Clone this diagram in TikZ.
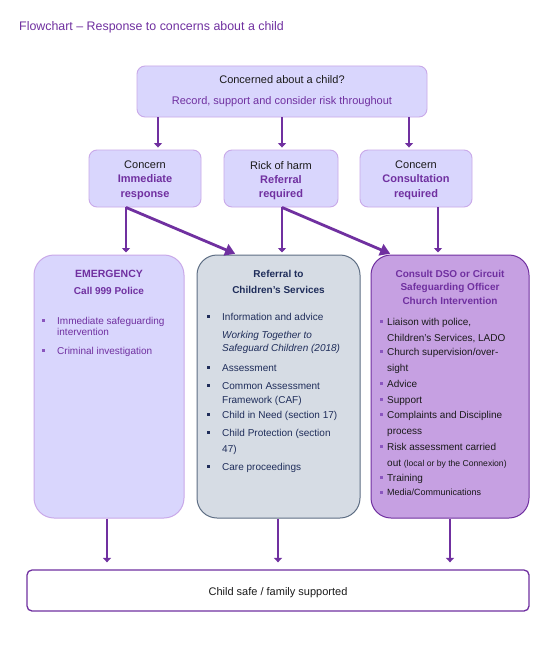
\documentclass[tikz,border=0pt]{standalone}
\usepackage{fontspec}
\setmainfont{Liberation Sans}
\usetikzlibrary{arrows.meta}
\definecolor{purp}{HTML}{7030A0}
\definecolor{lav}{HTML}{D9D6FD}
\definecolor{lavb}{HTML}{C9A9E9}
\definecolor{grayf}{HTML}{D6DCE4}
\definecolor{grayb}{HTML}{5E6E84}
\definecolor{navy}{HTML}{1F2D5A}
\definecolor{violf}{HTML}{C6A0E2}
\definecolor{bulp}{HTML}{8A55BE}
\definecolor{ink}{HTML}{1A1A1A}
\begin{document}
\begin{tikzpicture}[x=1pt,y=-1pt,
  lbox/.style={draw=lavb, fill=lav, line width=0.9pt, rounded corners=8pt, inner sep=0pt},
  bigbox/.style={line width=1pt, rounded corners=20pt, inner sep=0pt, minimum width=#1, minimum height=263pt},
  arr/.style={draw=purp, line width=2.8pt, -{Triangle[length=4.5pt,width=8pt]}},
  darr/.style={draw=purp, line width=2.8pt, -{Triangle[length=10pt,width=12pt]}},
  t11/.style={inner sep=0pt, anchor=base, text=ink, font=\fontsize{11}{13}\selectfont},
  b11/.style={inner sep=0pt, anchor=base, text=purp, font=\fontsize{11}{13}\selectfont\bfseries},
  b10/.style={inner sep=0pt, anchor=base, font=\fontsize{10}{12}\selectfont\bfseries},
  it/.style={inner sep=0pt, anchor=base west, font=\fontsize{10}{12}\selectfont},
  bul/.style={rectangle, inner sep=0pt, minimum size=3pt, draw=none}
]
\useasboundingbox (0,0) rectangle (555,661);
\fill[white] (0,0) rectangle (555,661);

% title
\node[inner sep=0pt, anchor=base west, text=purp, font=\fontsize{12.4}{14}\selectfont] (title) at (19,31) {Flowchart – Response to concerns about a child};

% boxes
\node[lbox, minimum width=290pt, minimum height=51pt] (top) at (282,91.5) {};
\node[lbox, minimum width=112pt, minimum height=57pt] (m1) at (145,178.5) {};
\node[lbox, minimum width=114pt, minimum height=57pt] (m2) at (281,178.5) {};
\node[lbox, minimum width=112pt, minimum height=57pt] (m3) at (416,178.5) {};
\node[bigbox=150pt, draw=lavb, fill=lav] (bL) at (109,386.5) {};
\node[bigbox=163pt, draw=grayb, fill=grayf] (bM) at (278.5,386.5) {};
\node[bigbox=158pt, draw=purp, fill=violf] (bR) at (450,386.5) {};
\node[draw=purp, fill=white, line width=1.3pt, rounded corners=5pt, minimum width=502pt, minimum height=41pt, inner sep=0pt] (fin) at (278,590.5) {};

% top texts
\node[t11] (q1) at (282,84) {Concerned about a child?};
\node[t11, text=purp] (q2) at (282,104) {Record, support and consider risk throughout};

\node[t11] (m1a) at (145,168) {Concern};
\node[b11] (m1b) at (145,182) {Immediate};
\node[b11] (m1c) at (145,197) {response};
\node[t11] (m2a) at (281,169) {Rick of harm};
\node[b11] (m2b) at (281,183) {Referral};
\node[b11] (m2c) at (281,197) {required};
\node[t11] (m3a) at (416,168) {Concern};
\node[b11] (m3b) at (416,182) {Consultation};
\node[b11] (m3c) at (416,197) {required};

% left box
\node[b10, text=purp, font=\fontsize{10.5}{12}\selectfont\bfseries] (l0a) at (109,277) {EMERGENCY};
\node[b10, text=purp] (l0b) at (109,294) {Call 999 Police};
\node[bul, fill=bulp] (lb1) at (43,320.5) {};
\node[it, text=purp] (l1a) at (57,324) {Immediate safeguarding};
\node[it, text=purp] (l1b) at (57,335) {intervention};
\node[bul, fill=bulp] (lb2) at (43,350.5) {};
\node[it, text=purp] (l2) at (57,354) {Criminal investigation};

% middle box
\node[b10, text=navy] (c0a) at (278.5,277) {Referral to};
\node[b10, text=navy] (c0b) at (278.5,293) {Children’s Services};
\node[bul, fill=navy] (cb1) at (208,316.5) {};
\node[it, text=navy] (c1) at (222,320) {Information and advice};
\node[it, text=navy, font=\fontsize{10}{12}\selectfont\itshape] (c1b) at (222,338) {Working Together to};
\node[it, text=navy, font=\fontsize{10}{12}\selectfont\itshape] (c1c) at (222,351) {Safeguard Children (2018)};
\node[bul, fill=navy] (cb2) at (208,367.5) {};
\node[it, text=navy] (c2) at (222,371) {Assessment};
\node[bul, fill=navy] (cb3) at (208,385.5) {};
\node[it, text=navy] (c3a) at (222,389) {Common Assessment};
\node[it, text=navy] (c3b) at (222,403) {Framework (CAF)};
\node[bul, fill=navy] (cb4) at (208,414.5) {};
\node[it, text=navy] (c4) at (222,418) {Child in Need (section 17)};
\node[bul, fill=navy] (cb5) at (208,432.5) {};
\node[it, text=navy] (c5a) at (222,436) {Child Protection (section};
\node[it, text=navy] (c5b) at (222,452) {47)};
\node[bul, fill=navy] (cb6) at (208,466.5) {};
\node[it, text=navy] (c6) at (222,470) {Care proceedings};

% right box
\node[b10, text=purp] (r0a) at (450,277) {Consult DSO or Circuit};
\node[b10, text=purp] (r0b) at (450,290) {Safeguarding Officer};
\node[b10, text=purp] (r0c) at (450,304) {Church Intervention};
\node[bul, fill=bulp] (rb1) at (381,321.5) {};
\node[it, text=ink] (r1a) at (387,325) {Liaison with police,};
\node[it, text=ink] (r1b) at (387,341) {Children’s Services, LADO};
\node[bul, fill=bulp] (rb2) at (381,351.5) {};
\node[it, text=ink] (r2a) at (387,355) {Church supervision/over-};
\node[it, text=ink] (r2b) at (387,371) {sight};
\node[bul, fill=bulp] (rb3) at (381,383.5) {};
\node[it, text=ink] (r3) at (387,387) {Advice};
\node[bul, fill=bulp] (rb4) at (381,399.5) {};
\node[it, text=ink] (r4) at (387,403) {Support};
\node[bul, fill=bulp] (rb5) at (381,414.5) {};
\node[it, text=ink] (r5a) at (387,418) {Complaints and Discipline};
\node[it, text=ink] (r5b) at (387,434) {process};
\node[bul, fill=bulp] (rb6) at (381,446.5) {};
\node[it, text=ink] (r6a) at (387,450) {Risk assessment carried};
\node[it, text=ink] (r6b) at (387,466) {out {\fontsize{8.6}{10}\selectfont(local or by the Connexion)}};
\node[bul, fill=bulp] (rb7) at (381,477.5) {};
\node[it, text=ink] (r7) at (387,481) {Training};
\node[bul, fill=bulp] (rb8) at (381,492.5) {};
\node[it, text=ink, font=\fontsize{9}{10}\selectfont] (r8) at (387,495) {Media/Communications};

% final text
\node[t11] (ft) at (278,595) {Child safe / family supported};

% connector x positions
\coordinate (xa) at (158,0);
\coordinate (xb) at (282,0);
\coordinate (xc) at (409,0);
\coordinate (xd) at (126,0);
\coordinate (xe) at (282,0);
\coordinate (xf) at (438,0);
\coordinate (xg) at (107,0);
\coordinate (xh) at (278,0);
\coordinate (xi) at (450,0);
\coordinate (dl) at (237,0);
\coordinate (dr) at (392,0);

% arrows top -> mid
\draw[arr, shorten >=2pt] (top.south -| xa) -- (m1.north -| xa);
\draw[arr, shorten >=2pt] (top.south -| xb) -- (m2.north -| xb);
\draw[arr, shorten >=2pt] (top.south -| xc) -- (m3.north -| xc);
% mid -> big
\draw[arr, shorten >=2pt] (m1.south -| xd) -- (bL.north -| xd);
\draw[darr, shorten >=2pt] (m1.south -| xd) -- (bM.north -| dl);
\draw[arr, shorten >=2pt] (m2.south -| xe) -- (bM.north -| xe);
\draw[darr, shorten >=2pt] (m2.south -| xe) -- (bR.north -| dr);
\draw[arr, shorten >=2pt] (m3.south -| xf) -- (bR.north -| xf);
% big -> final
\draw[arr, shorten >=7pt] (bL.south -| xg) -- (fin.north -| xg);
\draw[arr, shorten >=7pt] (bM.south -| xh) -- (fin.north -| xh);
\draw[arr, shorten >=7pt] (bR.south -| xi) -- (fin.north -| xi);
\end{tikzpicture}
\end{document}
